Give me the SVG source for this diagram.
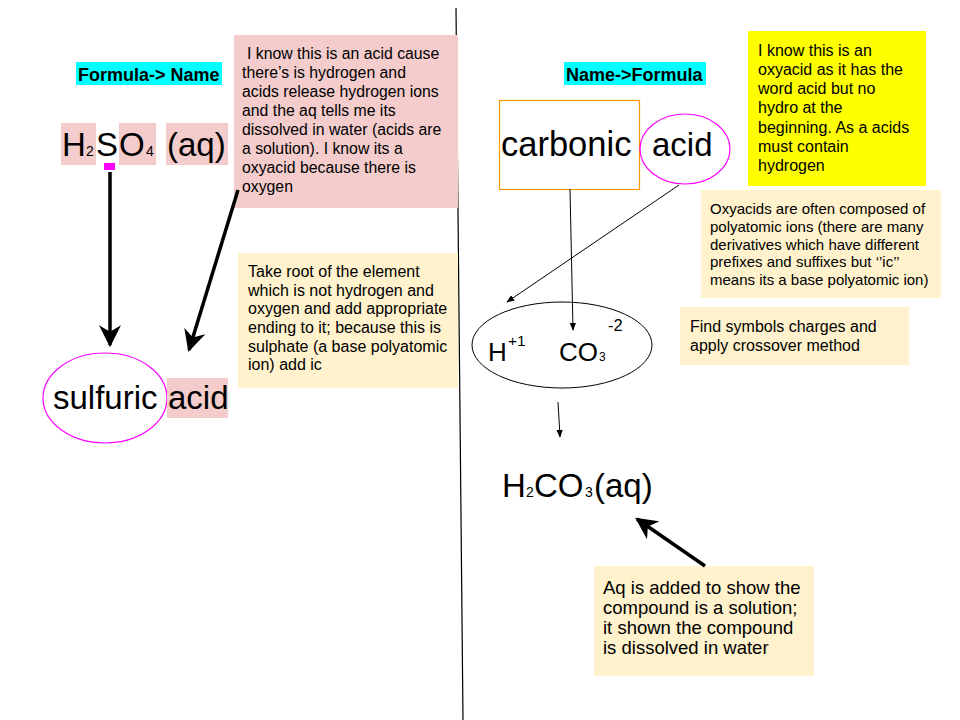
<svg xmlns="http://www.w3.org/2000/svg" width="960" height="720" viewBox="0 0 960 720">
<defs>
<style>
text{font-family:"Liberation Sans",Arial,sans-serif;fill:#000}
.hdr{font-size:18px;font-weight:bold}
.big{font-size:33px}
.sub{font-size:14px}
.n15{font-size:15.8px}
.n16{font-size:16px}
.n15b{font-size:15px}
.n18{font-size:18.5px}
.pink{fill:#f4cccc}
.cream{fill:#fff2cc}
.thick{stroke:#000;stroke-width:3.5;fill:none}
.thin{stroke:#000;stroke-width:1;fill:none}
</style>
<marker id="bigHead" viewBox="0 0 20 20" refX="18" refY="10" markerUnits="userSpaceOnUse" markerWidth="22" markerHeight="22" orient="auto">
<path d="M0,0 L20,10 L0,20 L6,10 z" fill="#000"/>
</marker>
<marker id="smallHead" viewBox="0 0 10 10" refX="9" refY="5" markerUnits="userSpaceOnUse" markerWidth="8" markerHeight="8" orient="auto">
<path d="M0,1 L10,5 L0,9 z" fill="#000"/>
</marker>
</defs>
<rect width="960" height="720" fill="#fff"/>

<g id="divider"><line x1="456" y1="8" x2="463" y2="720" stroke="#000" stroke-width="1.2"/></g>

<g id="hdr-left">
<rect x="76" y="62" width="146" height="23" fill="#00ffff"/>
<text class="hdr" x="78" y="81">Formula-&gt; Name</text>
</g>

<g id="h2so4">
<rect class="pink" x="61" y="123" width="35" height="42"/>
<rect class="pink" x="119" y="123" width="37" height="42"/>
<rect class="pink" x="166" y="123" width="62" height="42"/>
<text class="big" x="62" y="156">H</text>
<text class="sub" x="86" y="156">2</text>
<text class="big" x="96" y="156">S</text>
<text class="big" x="119" y="156">O</text>
<text class="sub" x="146" y="156">4</text>
<text class="big" x="167" y="156">(aq)</text>
<rect x="104" y="163" width="11" height="7" fill="#ff00ff"/>
</g>

<g id="note-acid">
<rect class="pink" x="234" y="35" width="224" height="173"/>
<text class="n15">
<tspan x="247" y="59">I know this is an acid cause</tspan>
<tspan x="242" y="78">there’s is hydrogen and</tspan>
<tspan x="242" y="97">acids release hydrogen ions</tspan>
<tspan x="242" y="116">and the aq tells me its</tspan>
<tspan x="242" y="135">dissolved in water (acids are</tspan>
<tspan x="242" y="154">a solution). I know its a</tspan>
<tspan x="242" y="173">oxyacid because there is</tspan>
<tspan x="242" y="192">oxygen</tspan>
</text>
</g>

<g id="note-root">
<rect class="cream" x="238" y="253" width="220" height="135"/>
<text class="n16">
<tspan x="248" y="277">Take root of the element</tspan>
<tspan x="248" y="296">which is not hydrogen and</tspan>
<tspan x="248" y="314">oxygen and add appropriate</tspan>
<tspan x="248" y="333">ending to it; because this is</tspan>
<tspan x="248" y="352">sulphate (a base polyatomic</tspan>
<tspan x="248" y="370">ion) add ic</tspan>
</text>
</g>

<g id="sulfuric">
<ellipse cx="105" cy="398" rx="62" ry="45" fill="none" stroke="#ff00ff" stroke-width="1.2"/>
<text class="big" x="53" y="409">sulfuric</text>
</g>

<g id="acid-left">
<rect class="pink" x="167" y="378" width="61" height="40"/>
<text class="big" x="168" y="409">acid</text>
</g>

<g id="hdr-right">
<rect x="564" y="62" width="142" height="23" fill="#00ffff"/>
<text class="hdr" x="566" y="81">Name-&gt;Formula</text>
</g>

<g id="carbonic">
<rect x="499.5" y="100.5" width="140" height="89" fill="none" stroke="#ff9900" stroke-width="1.2"/>
<text x="501" y="156" style="font-size:34.5px">carbonic</text>
</g>

<g id="acid-right">
<ellipse cx="685" cy="149" rx="45" ry="35" fill="none" stroke="#ff00ff" stroke-width="1.2"/>
<text class="big" x="652" y="156">acid</text>
</g>

<g id="note-yellow">
<rect x="748" y="31" width="178" height="155" fill="#ffff00"/>
<text class="n16">
<tspan x="758" y="56">I know this is an</tspan>
<tspan x="758" y="75">oxyacid as it has the</tspan>
<tspan x="758" y="94">word acid but no</tspan>
<tspan x="758" y="113">hydro at the</tspan>
<tspan x="758" y="133">beginning. As a acids</tspan>
<tspan x="758" y="152">must contain</tspan>
<tspan x="758" y="171">hydrogen</tspan>
</text>
</g>

<g id="note-oxy">
<rect class="cream" x="701" y="190" width="240" height="108"/>
<text class="n15b">
<tspan x="710" y="214">Oxyacids are often composed of</tspan>
<tspan x="710" y="232">polyatomic ions (there are many</tspan>
<tspan x="710" y="250">derivatives which have different</tspan>
<tspan x="710" y="267">prefixes and suffixes but ‘’ic’’</tspan>
<tspan x="710" y="285">means its a base polyatomic ion)</tspan>
</text>
</g>

<g id="note-find">
<rect class="cream" x="680" y="307" width="229" height="58"/>
<text class="n16">
<tspan x="690" y="332">Find symbols charges and</tspan>
<tspan x="690" y="351">apply crossover method</tspan>
</text>
</g>

<g id="ions">
<ellipse cx="562" cy="345" rx="90" ry="43" fill="none" stroke="#000" stroke-width="1"/>
<text x="488" y="361" style="font-size:26px">H</text>
<text x="508" y="346" style="font-size:15.5px">+1</text>
<text x="559" y="361" style="font-size:26px">CO</text>
<text x="599" y="361" style="font-size:12px">3</text>
<text x="608" y="331" style="font-size:16.5px">-2</text>
</g>

<g id="h2co3">
<text x="502" y="497" style="font-size:33px">H</text>
<text x="526" y="497" class="sub">2</text>
<text x="534" y="497" style="font-size:33px">CO</text>
<text x="585" y="497" class="sub">3</text>
<text x="594" y="497" style="font-size:33px">(aq)</text>
</g>

<g id="note-aq">
<rect class="cream" x="594" y="566" width="220" height="110"/>
<text class="n18">
<tspan x="603" y="594">Aq is added to show the</tspan>
<tspan x="603" y="614">compound is a solution;</tspan>
<tspan x="603" y="634">it shown the compound</tspan>
<tspan x="603" y="654">is dissolved in water</tspan>
</text>
</g>

<g id="connectors">
<line class="thick" x1="110" y1="172" x2="110" y2="345" marker-end="url(#bigHead)"/>
<line class="thick" x1="238" y1="190" x2="189" y2="350" marker-end="url(#bigHead)"/>
<line class="thin" x1="570" y1="189" x2="573" y2="330" marker-end="url(#smallHead)"/>
<line class="thin" x1="679" y1="185" x2="507" y2="302" marker-end="url(#smallHead)"/>
<line class="thin" x1="558" y1="402" x2="560" y2="437" marker-end="url(#smallHead)"/>
<line class="thick" x1="705" y1="566" x2="637" y2="519" marker-end="url(#bigHead)"/>
</g>
</svg>
